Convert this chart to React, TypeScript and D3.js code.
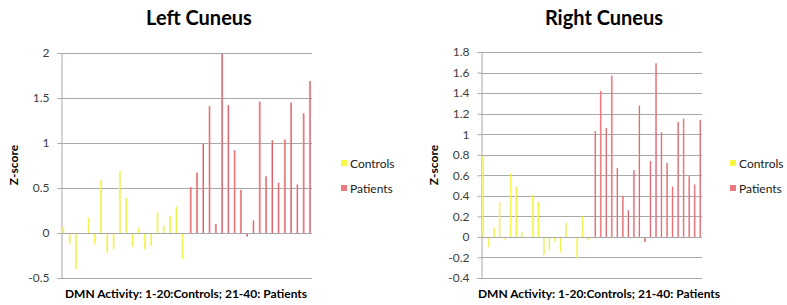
import { useEffect, useRef } from "react";
import * as d3 from "d3";

// subjects 1-40, controls are 1-20, patients 21-40
const categories = d3.range(1, 41).map(String);
const series = ["Controls", "Patients"];

const leftControls = [0.07, -0.12, -0.4, 0, 0.17, -0.12, 0.59, -0.22, -0.18, 0.69, 0.39, -0.15, 0.06, -0.18, -0.14, 0.23, 0.08, 0.19, 0.29, -0.29];
const leftPatients = [0.51, 0.67, 0.99, 1.41, 0.1, 1.99, 1.42, 0.92, 0.48, -0.04, 0.14, 1.46, 0.63, 1.03, 0.56, 1.04, 1.45, 0.54, 1.33, 1.69];

const rightControls = [0.79, -0.1, 0.09, 0.34, -0.03, 0.62, 0.49, 0.05, 0, 0.41, 0.34, -0.18, -0.13, -0.045, -0.15, 0.14, 0, -0.21, 0.2, -0.035];
const rightPatients = [1.03, 1.42, 1.06, 1.57, 0.67, 0.4, 0.26, 0.65, 1.28, -0.05, 0.74, 1.69, 1.02, 0.72, 0.49, 1.12, 1.15, 0.59, 0.51, 1.14];

const leftTicks = [-0.5, 0, 0.5, 1, 1.5, 2];
const rightTicks = [-0.4, -0.2, 0, 0.2, 0.4, 0.6, 0.8, 1, 1.2, 1.4, 1.6, 1.8];

const font = "Lato, 'Open Sans', sans-serif";

type ChartProps = {
  svg: d3.Selection<SVGSVGElement, unknown, null, undefined>;
  title: string;
  controls: number[];
  patients: number[];
  ticks: number[];
  box: { left: number; right: number; top: number; bottom: number };
  titleX: number;
  labelX: number;
  legendX: number;
};

const drawChart = (p: ChartProps) => {
  const { svg, box } = p;
  const g = svg.append("g");

  const y = d3.scaleLinear()
    .domain([p.ticks[0], p.ticks[p.ticks.length - 1]])
    .range([box.bottom, box.top]);
  const x0 = d3.scaleBand().domain(categories).range([box.left, box.right]).padding(0);
  const x1 = d3.scaleBand().domain(series).range([0, x0.bandwidth()]).paddingInner(0).paddingOuter(0.75);

  // gridlines
  g.selectAll(".grid")
    .data(p.ticks)
    .join("line")
    .attr("x1", box.left)
    .attr("x2", box.right)
    .attr("y1", d => Math.round(y(d)) + 0.5)
    .attr("y2", d => Math.round(y(d)) + 0.5)
    .attr("stroke", "#a8a8a8")
    .attr("stroke-width", 1);

  // y axis
  const axis = g.append("g")
    .attr("transform", `translate(${box.left + 0.5},0)`)
    .call(d3.axisLeft(y).tickValues(p.ticks).tickSize(4).tickPadding(8).tickFormat(d => String(+(+d).toFixed(1))));
  axis.select(".domain").attr("stroke", "#a8a8a8");
  axis.selectAll(".tick line").attr("stroke", "#a8a8a8");
  axis.selectAll(".tick text")
    .attr("font-family", font)
    .attr("font-size", 12)
    .attr("fill", "#404040");

  const rows = [
    ...p.controls.map((v, i) => ({ cat: categories[i], s: "Controls", v })),
    ...p.patients.map((v, i) => ({ cat: categories[i + 20], s: "Patients", v })),
  ];

  g.selectAll(".bar")
    .data(rows)
    .join("rect")
    .attr("x", d => (x0(d.cat) as number) + (x1(d.s) as number))
    .attr("width", x1.bandwidth())
    .attr("y", d => y(Math.max(0, d.v)))
    .attr("height", d => Math.abs(y(d.v) - y(0)))
    .attr("fill", d => d.s === "Controls" ? "url(#gradY)" : "url(#gradR)");

  // zero axis line
  g.append("line")
    .attr("x1", box.left).attr("x2", box.right)
    .attr("y1", Math.round(y(0)) + 0.5).attr("y2", Math.round(y(0)) + 0.5)
    .attr("stroke", "#a8a8a8");

  g.append("text")
    .attr("x", p.titleX).attr("y", 25)
    .attr("text-anchor", "middle")
    .attr("font-family", font).attr("font-weight", "bold").attr("font-size", 20)
    .attr("fill", "#000")
    .text(p.title);

  g.append("text")
    .attr("transform", `translate(${box.left - 43},${165}) rotate(-90)`)
    .attr("text-anchor", "middle")
    .attr("font-family", font).attr("font-weight", "bold").attr("font-size", 12)
    .text("Z-score");

  g.append("text")
    .attr("x", p.labelX).attr("y", 298)
    .attr("text-anchor", "middle")
    .attr("font-family", font).attr("font-weight", "bold").attr("font-size", 12)
    .text("DMN Activity: 1-20:Controls; 21-40: Patients");

  const legend = g.append("g").attr("transform", `translate(${p.legendX},160)`);
  legend.selectAll("rect")
    .data(series)
    .join("rect")
    .attr("x", 0)
    .attr("y", (d, i) => i * 25)
    .attr("width", 6).attr("height", 6)
    .attr("fill", d => d === "Controls" ? "#f6f645" : "#ea7a80");
  legend.selectAll("text")
    .data(series)
    .join("text")
    .attr("x", 9)
    .attr("y", (d, i) => i * 25 + 8)
    .attr("font-family", font).attr("font-size", 12)
    .attr("fill", "#202020")
    .text(d => d);
};

const App = () => {
  const ref = useRef<SVGSVGElement>(null);

  useEffect(() => {
    const svg = d3.select(ref.current as SVGSVGElement);
    svg.selectAll("*").remove();

    const defs = svg.append("defs");
    const gy = defs.append("linearGradient").attr("id", "gradY").attr("x1", 0).attr("x2", 1).attr("y1", 0).attr("y2", 0);
    gy.append("stop").attr("offset", "0%").attr("stop-color", "#ffff80");
    gy.append("stop").attr("offset", "100%").attr("stop-color", "#e8e830");
    const gr = defs.append("linearGradient").attr("id", "gradR").attr("x1", 0).attr("x2", 1).attr("y1", 0).attr("y2", 0);
    gr.append("stop").attr("offset", "0%").attr("stop-color", "#f7b4b4");
    gr.append("stop").attr("offset", "100%").attr("stop-color", "#d8434c");

    drawChart({
      svg, title: "Left Cuneus", controls: leftControls, patients: leftPatients, ticks: leftTicks,
      box: { left: 61, right: 312, top: 53, bottom: 278 }, titleX: 199, labelX: 186, legendX: 341,
    });
    drawChart({
      svg, title: "Right Cuneus", controls: rightControls, patients: rightPatients, ticks: rightTicks,
      box: { left: 481, right: 702, top: 52, bottom: 278 }, titleX: 604, labelX: 599, legendX: 730,
    });
  }, []);

  return (
    <svg ref={ref} width={787} height={305} style={{ position: "absolute", left: 0, top: 0, background: "#fff" }} />
  );
};

export default App;
